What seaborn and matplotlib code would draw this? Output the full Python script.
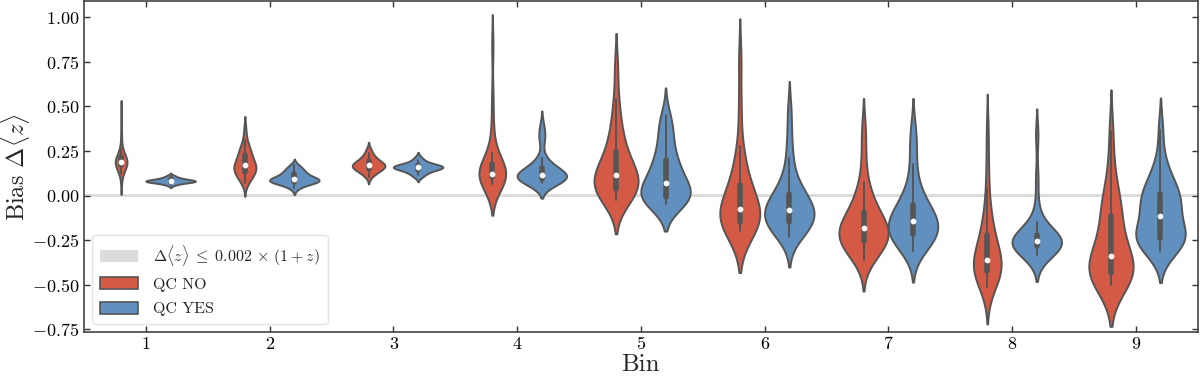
import numpy as np
import pandas as pd
import matplotlib
matplotlib.use("Agg")
import matplotlib.pyplot as plt
from matplotlib.patches import Patch
import seaborn as sns

# ---------------- data ----------------
bins = ["1", "2", "3", "4", "5", "6", "7", "8", "9"]
qc_levels = ["QC NO", "QC YES"]

bin1_no = [0.08, 0.12, 0.14, 0.15, 0.155, 0.16, 0.165, 0.17, 0.173, 0.176, 0.179, 0.182,
           0.185, 0.187, 0.19, 0.193, 0.196, 0.2, 0.203, 0.207, 0.21, 0.215, 0.22, 0.23,
           0.24, 0.26, 0.3, 0.36, 0.46]
bin1_yes = [0.058, 0.063, 0.067, 0.07, 0.072, 0.074, 0.075, 0.076, 0.077, 0.078, 0.079,
            0.08, 0.081, 0.082, 0.083, 0.084, 0.085, 0.086, 0.087, 0.088, 0.09, 0.092,
            0.094, 0.096, 0.099, 0.103, 0.108, 0.113]
bin2_no = [0.07, 0.09, 0.10, 0.11, 0.115, 0.12, 0.13, 0.14, 0.145, 0.15, 0.155, 0.16,
           0.165, 0.17, 0.175, 0.18, 0.19, 0.2, 0.21, 0.22, 0.235, 0.245, 0.255, 0.265,
           0.28, 0.31, 0.37]
bin2_yes = [0.04, 0.055, 0.062, 0.068, 0.072, 0.075, 0.078, 0.08, 0.082, 0.084, 0.086,
            0.088, 0.09, 0.093, 0.096, 0.1, 0.105, 0.11, 0.115, 0.12, 0.128, 0.135, 0.14,
            0.15, 0.16, 0.17]
bin3_no = [0.105, 0.12, 0.13, 0.135, 0.14, 0.145, 0.15, 0.155, 0.158, 0.161, 0.164, 0.167,
           0.17, 0.173, 0.176, 0.18, 0.184, 0.188, 0.193, 0.2, 0.207, 0.215, 0.225, 0.24,
           0.26]
bin3_yes = [0.105, 0.115, 0.125, 0.132, 0.138, 0.143, 0.147, 0.15, 0.153, 0.155, 0.157,
            0.159, 0.161, 0.163, 0.165, 0.167, 0.169, 0.172, 0.176, 0.182, 0.19, 0.2, 0.215]
bin4_no = [0.065, 0.075, 0.08, 0.085, 0.09, 0.095, 0.1, 0.104, 0.108, 0.112, 0.115, 0.117,
           0.12, 0.124, 0.128, 0.133, 0.14, 0.15, 0.16, 0.17, 0.18, 0.2, 0.24, 0.3, 0.4,
           0.55, 0.84]
bin4_yes = [0.07, 0.075, 0.08, 0.084, 0.088, 0.091, 0.094, 0.097, 0.1, 0.103, 0.106,
            0.109, 0.112, 0.115, 0.118, 0.122, 0.127, 0.133, 0.14, 0.15, 0.16, 0.175, 0.19,
            0.21, 0.31, 0.34, 0.39]
bin5_no = [-0.025, -0.015, -0.005, 0.005, 0.012, 0.02, 0.03, 0.045, 0.06, 0.075, 0.09, 0.1,
           0.11, 0.117, 0.125, 0.135, 0.15, 0.17, 0.2, 0.23, 0.26, 0.29, 0.33, 0.38, 0.45,
           0.54, 0.72]
bin5_yes = [-0.045, -0.04, -0.035, -0.03, -0.025, -0.02, -0.015, -0.005, 0.005, 0.015, 0.03,
            0.045, 0.06, 0.07, 0.085, 0.1, 0.12, 0.14, 0.165, 0.19, 0.21, 0.24, 0.28, 0.33,
            0.37, 0.41, 0.45]
bin6_no = [-0.2, -0.19, -0.183, -0.175, -0.167, -0.16, -0.15, -0.14, -0.13, -0.12, -0.11,
           -0.1, -0.09, -0.077, -0.065, -0.05, -0.03, -0.01, 0.01, 0.04, 0.075, 0.11, 0.15,
           0.2, 0.28, 0.5, 0.76]
bin6_yes = [-0.23, -0.215, -0.2, -0.185, -0.17, -0.16, -0.15, -0.14, -0.13, -0.12, -0.11,
            -0.1, -0.09, -0.078, -0.065, -0.055, -0.045, -0.03, -0.015, 0.0, 0.017, 0.04,
            0.08, 0.13, 0.21, 0.32, 0.47]
bin7_no = [-0.36, -0.34, -0.32, -0.3, -0.28, -0.27, -0.26, -0.25, -0.24, -0.23, -0.22,
           -0.21, -0.2, -0.183, -0.17, -0.16, -0.15, -0.14, -0.12, -0.1, -0.08, -0.05,
           -0.01, 0.03, 0.078, 0.22, 0.37]
bin7_yes = [-0.31, -0.29, -0.275, -0.26, -0.245, -0.23, -0.22, -0.21, -0.2, -0.19, -0.18,
            -0.17, -0.16, -0.144, -0.13, -0.12, -0.11, -0.095, -0.08, -0.06, -0.04, -0.01,
            0.03, 0.078, 0.18, 0.28, 0.37]
bin8_no = [-0.51, -0.49, -0.475, -0.46, -0.45, -0.44, -0.43, -0.42, -0.41, -0.4, -0.39,
           -0.385, -0.38, -0.375, -0.36, -0.345, -0.33, -0.31, -0.29, -0.27, -0.25, -0.22,
           -0.19, -0.16, -0.12, -0.06, 0.04, 0.18, 0.36]
bin8_yes = [-0.335, -0.32, -0.31, -0.302, -0.296, -0.29, -0.285, -0.28, -0.276, -0.272,
            -0.268, -0.264, -0.26, -0.256, -0.252, -0.248, -0.243, -0.238, -0.232, -0.225,
            -0.215, -0.2, -0.18, -0.15, -0.06, 0.1, 0.34]
bin9_no = [-0.5, -0.49, -0.48, -0.47, -0.46, -0.45, -0.44, -0.43, -0.42, -0.405, -0.39,
           -0.37, -0.355, -0.34, -0.32, -0.29, -0.26, -0.23, -0.18, -0.13, -0.1, -0.07,
           -0.04, 0.0, 0.06, 0.18, 0.36]
bin9_yes = [-0.31, -0.295, -0.28, -0.27, -0.26, -0.25, -0.24, -0.23, -0.22, -0.21, -0.2,
            -0.18, -0.15, -0.112, -0.08, -0.06, -0.05, -0.04, -0.02, 0.0, 0.02, 0.04, 0.06,
            0.09, 0.14, 0.2, 0.37]

samples_no = [bin1_no, bin2_no, bin3_no, bin4_no, bin5_no, bin6_no, bin7_no, bin8_no, bin9_no]
samples_yes = [bin1_yes, bin2_yes, bin3_yes, bin4_yes, bin5_yes, bin6_yes, bin7_yes, bin8_yes, bin9_yes]

band_label = r"$\Delta\langle z\rangle \;\leq\; 0.002 \,\times\, (1+z)$"

# ---------------- build long table ----------------
rows = []
for b, s_no, s_yes in zip(bins, samples_no, samples_yes):
    for v in s_no:
        rows.append((b, qc_levels[0], v))
    for v in s_yes:
        rows.append((b, qc_levels[1], v))
df = pd.DataFrame(rows, columns=["Bin", "QC", "bias"])

# ---------------- style ----------------
sns.set_style("ticks")
plt.rcParams["font.family"] = ["cmr10", "DejaVu Serif"]
plt.rcParams["mathtext.fontset"] = "cm"
plt.rcParams["axes.formatter.use_mathtext"] = True
plt.rcParams["axes.unicode_minus"] = True

red = "#d45a46"
blue = "#6190bf"
band_color = "#dcdcdc"
edge_gray = "#555555"

fig = plt.figure(figsize=(12, 3.77), dpi=100)
ax = fig.add_axes([0.07, 0.119, 0.928, 0.878])

ax.axhspan(-0.008, 0.008, color=band_color, lw=0, zorder=0)

# one call per bin: the two QC violins of a bin share a common density scale
for b in bins:
    sns.violinplot(data=df[df["Bin"] == b], x="Bin", y="bias", hue="QC",
                   order=bins, hue_order=qc_levels, palette=[red, blue],
                   saturation=1, linewidth=1.4, linecolor=edge_gray,
                   common_norm=True, legend=False,
                   inner_kws=dict(box_width=4.0, whis_width=1.4, marker="o"),
                   ax=ax)

ax.set_xlim(-0.5, 8.5)
ax.set_ylim(-0.765, 1.09)
ax.set_yticks([-0.75, -0.5, -0.25, 0.0, 0.25, 0.5, 0.75, 1.0])
ax.set_xlabel("Bin", fontsize=18, labelpad=1)
ax.set_ylabel(r"Bias $\Delta\langle z\rangle$", fontsize=17.5, labelpad=0)
ax.tick_params(direction="in", top=True, right=True, labelsize=13, length=4.5, width=1,
               colors="#333333", labelcolor="black")
for sp in ax.spines.values():
    sp.set_color("#444444")
    sp.set_linewidth(1.2)

handles = [Patch(facecolor=band_color, edgecolor="none"),
           Patch(facecolor=red, edgecolor=edge_gray, linewidth=1.2),
           Patch(facecolor=blue, edgecolor=edge_gray, linewidth=1.2)]
labels = [band_label] + qc_levels
ax.legend(handles, labels, loc="lower left", fontsize=11.5, frameon=True, fancybox=True,
          framealpha=0.8, edgecolor="#dddddd", borderpad=0.5, handlelength=2.4,
          handleheight=0.8, labelspacing=0.6, handletextpad=0.9)

fig.savefig("out.png", dpi=100)
